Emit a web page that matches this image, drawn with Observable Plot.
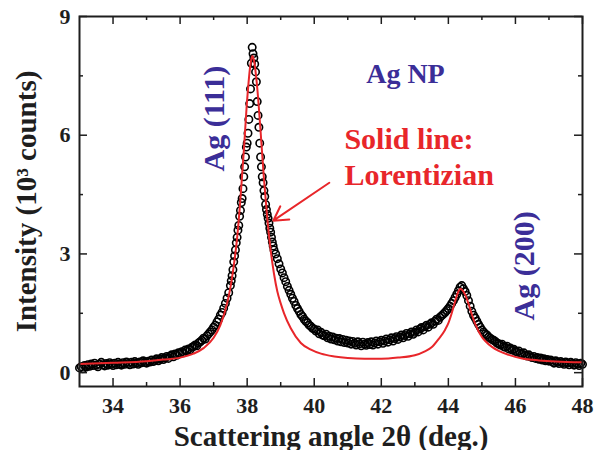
<!DOCTYPE html>
<html><head><meta charset="utf-8">
<script src="https://cdn.jsdelivr.net/npm/d3@7"></script>
<script src="https://cdn.jsdelivr.net/npm/@observablehq/plot@0.6"></script>
<style>body{margin:0;background:#fff}</style>
</head><body><div id="chart"></div>
<script>
const xTicks = [34, 36, 38, 40, 42, 44, 46, 48];
const xMinor = [35, 37, 39, 41, 43, 45, 47];
const yTicks = [0, 3, 6, 9];
const yMinor = [1.5, 4.5, 7.5];

const leftTail = [
[33.00,0.12],[33.05,0.15],[33.10,0.10],[33.15,0.18],[33.20,0.14],[33.25,0.20],[33.30,0.16],[33.35,0.22],[33.40,0.18],[33.45,0.24],
[33.50,0.19],[33.55,0.15],[33.60,0.21],[33.65,0.26],[33.70,0.20],[33.75,0.17],[33.80,0.23],[33.85,0.19],[33.90,0.25],[33.95,0.21],
[34.00,0.18],[34.05,0.24],[34.10,0.20],[34.15,0.26],[34.20,0.22],[34.25,0.19],[34.30,0.25],[34.35,0.21],[34.40,0.27],[34.45,0.23],
[34.50,0.20],[34.55,0.26],[34.60,0.22],[34.65,0.28],[34.70,0.24],[34.75,0.21],[34.80,0.27],[34.85,0.25],[34.90,0.30],[34.95,0.26],
[35.00,0.24],[35.05,0.29],[35.10,0.27],[35.15,0.32],[35.20,0.28],[35.25,0.31],[35.30,0.35],[35.35,0.30],[35.40,0.34],[35.45,0.38],
[35.50,0.33],[35.55,0.37],[35.60,0.41],[35.65,0.36],[35.70,0.42],[35.75,0.45],[35.80,0.40],[35.85,0.47],[35.90,0.44],[35.95,0.50],
[36.00,0.48],[36.05,0.53],[36.10,0.50],[36.15,0.57],[36.20,0.55],[36.25,0.60],[36.30,0.58],[36.35,0.64],[36.40,0.66],[36.45,0.70],
[36.50,0.68],[36.55,0.75],[36.60,0.78],[36.65,0.82],[36.70,0.87],[36.75,0.85],[36.80,0.93],[36.85,0.98],[36.90,1.03],[36.95,1.08],
[37.00,1.15],[37.05,1.20],[37.10,1.28],[37.15,1.35],[37.20,1.45],[37.25,1.52],[37.30,1.63],[37.35,1.75],[37.40,1.88],[37.45,2.02]
];
const mainPeak = [
[37.500,2.20],[37.525,2.32],[37.550,2.45],[37.575,2.60],[37.600,2.80],[37.625,2.95],[37.650,3.10],[37.675,3.28],[37.700,3.42],[37.725,3.60],
[37.750,3.72],[37.775,3.95],[37.800,4.10],[37.825,4.30],[37.850,4.40],[37.875,4.65],[37.900,4.95],[37.925,5.20],[37.950,5.45],[37.975,5.70],
[38.000,5.80],[38.025,6.05],[38.050,6.40],[38.075,6.80],[38.100,7.17],[38.125,7.82],[38.150,8.22],[38.175,8.06],[38.200,7.95],[38.225,7.80],
[38.250,7.60],[38.275,7.35],[38.300,6.85],[38.325,6.50],[38.350,6.20],[38.375,5.80],[38.400,5.45],[38.425,5.20],[38.450,4.95],[38.475,4.80],
[38.500,4.60],[38.525,4.45],[38.550,4.25],[38.575,4.12],[38.600,4.00],[38.625,3.90],[38.650,3.78],[38.675,3.65],[38.700,3.55],[38.725,3.42],
[38.750,3.30],[38.775,3.20],[38.800,3.10]
];
const valleyAndSecond = [
[38.85,3.00],[38.90,2.88],[38.95,2.75],[39.00,2.62],[39.05,2.52],[39.10,2.40],[39.15,2.30],[39.20,2.18],[39.25,2.08],[39.30,1.98],
[39.35,1.88],[39.40,1.80],[39.45,1.70],[39.50,1.62],[39.55,1.55],[39.60,1.47],[39.65,1.42],[39.70,1.35],[39.75,1.30],[39.80,1.26],
[39.85,1.20],[39.90,1.17],[39.95,1.12],[40.00,1.10],[40.05,1.05],[40.10,1.08],[40.15,0.98],[40.20,1.02],[40.25,0.95],[40.30,0.93],
[40.35,0.97],[40.40,0.88],[40.45,0.92],[40.50,0.85],[40.55,0.90],[40.60,0.83],[40.65,0.87],[40.70,0.80],[40.75,0.86],[40.80,0.78],
[40.85,0.84],[40.90,0.76],[40.95,0.82],[41.00,0.75],[41.05,0.80],[41.10,0.72],[41.15,0.79],[41.20,0.74],[41.25,0.70],[41.30,0.78],
[41.35,0.73],[41.40,0.68],[41.45,0.77],[41.50,0.72],[41.55,0.69],[41.60,0.76],[41.65,0.71],[41.70,0.78],[41.75,0.70],[41.80,0.75],
[41.85,0.80],[41.90,0.72],[41.95,0.78],[42.00,0.82],[42.05,0.74],[42.10,0.80],[42.15,0.85],[42.20,0.77],[42.25,0.83],[42.30,0.88],
[42.35,0.80],[42.40,0.86],[42.45,0.91],[42.50,0.84],[42.55,0.90],[42.60,0.95],[42.65,0.88],[42.70,0.94],[42.75,0.99],[42.80,0.92],
[42.85,0.98],[42.90,1.03],[42.95,0.97],[43.00,1.02],[43.05,1.08],[43.10,1.03],[43.15,1.10],[43.20,1.14],[43.25,1.08],[43.30,1.16],
[43.35,1.20],[43.40,1.15],[43.45,1.22],[43.50,1.26],[43.55,1.22],[43.60,1.30],[43.65,1.35],[43.70,1.32],[43.75,1.40],[43.80,1.44],
[43.85,1.48],[43.90,1.52],[43.95,1.57],[44.00,1.62],[44.05,1.68],[44.10,1.75],[44.15,1.82],[44.20,1.90],[44.25,1.98],[44.30,2.07],
[44.35,2.16],[44.40,2.20],[44.45,2.12],[44.50,2.05],[44.55,1.95],[44.60,1.82],[44.65,1.68],[44.70,1.55],[44.75,1.45],[44.80,1.38],
[44.85,1.30],[44.90,1.22],[44.95,1.15],[45.00,1.08],[45.05,1.03],[45.10,0.98],[45.15,0.95],[45.20,0.90],[45.25,0.87],[45.30,0.84],
[45.35,0.82],[45.40,0.79],[45.45,0.75],[45.50,0.73],[45.55,0.70],[45.60,0.72],[45.65,0.66],[45.70,0.64],[45.75,0.67],[45.80,0.60],
[45.85,0.62],[45.90,0.57],[45.95,0.59],[46.00,0.54],[46.05,0.52],[46.10,0.55],[46.15,0.49],[46.20,0.47],[46.25,0.50],[46.30,0.44],
[46.35,0.42],[46.40,0.45],[46.45,0.40],[46.50,0.38],[46.55,0.41],[46.60,0.36],[46.65,0.38],[46.70,0.34],[46.75,0.37],[46.80,0.32],
[46.85,0.35],[46.90,0.30],[46.95,0.33],[47.00,0.29],[47.05,0.32],[47.10,0.28],[47.15,0.24],[47.20,0.30],[47.25,0.26],[47.30,0.23],
[47.35,0.28],[47.40,0.25],[47.45,0.21],[47.50,0.27],[47.55,0.24],[47.60,0.20],[47.65,0.26],[47.70,0.23],[47.75,0.19],[47.80,0.25],
[47.85,0.22],[47.90,0.18],[47.95,0.24],[48.00,0.21]
];
// Lorentzian fit curve
const lorentzFit = [
[33.0,0.22],[34.0,0.25],[35.0,0.29],[35.5,0.33],[36.0,0.38],[36.4,0.48],[36.7,0.62],[37.0,0.88],[37.2,1.2],[37.4,1.75],
[37.5,2.15],[37.6,2.7],[37.7,3.4],[37.8,4.4],[37.9,5.6],[38.0,6.9],[38.1,7.8],[38.15,8.0],[38.2,7.9],[38.3,7.2],
[38.4,6.1],[38.5,4.9],[38.6,3.9],[38.7,3.1],[38.8,2.5],[38.9,2.05],[39.0,1.75],[39.1,1.5],[39.3,1.12],[39.6,0.75],
[39.9,0.58],[40.2,0.48],[40.6,0.41],[41.0,0.37],[41.5,0.35],[42.0,0.35],[42.5,0.38],[43.0,0.44],[43.3,0.54],[43.5,0.64],
[43.7,0.84],[43.9,1.08],[44.0,1.25],[44.1,1.5],[44.2,1.8],[44.3,2.05],[44.35,2.12],[44.4,2.1],[44.5,1.97],[44.6,1.74],
[44.7,1.47],[44.8,1.23],[45.0,0.9],[45.1,0.8],[45.3,0.65],[45.5,0.55],[45.8,0.45],[46.2,0.36],[46.7,0.31],[47.2,0.28],[48.0,0.26]
];

const peakLabels = [{text: "Ag (111)", x: 37.01, y: 6.42}, {text: "Ag (200)", x: 46.27, y: 2.70}];
const sampleLabel = [{text: "Ag NP", x: 42.72, y: 7.55}];
const fitLabels = [{text: "Solid line:", x: 40.9, y: 5.66}, {text: "Lorentizian", x: 40.9, y: 4.75}];
const fitArrow = [{x1: 40.45, y1: 4.80, x2: 38.78, y2: 3.84}];
const xTitle = ["Scattering angle 2θ (deg.)"];
const yTitle = ["Intensity (10³ counts)"];

const measured = [...leftTail, ...mainPeak, ...valleyAndSecond].map(([a, c]) => ({a, c}));
const fit = lorentzFit.map(([a, c]) => ({a, c}));

const W = 594, H = 450, ML = 79, MR = 12, MT = 16, MB = 64;
const FW = W - ML - MR, FH = H - MT - MB;
const ink = "#1e1e1e", blue = "#3b2e98", red = "#e8262a";

const chart = Plot.plot({
  width: W, height: H,
  marginLeft: ML, marginRight: MR, marginTop: MT, marginBottom: MB,
  style: {fontFamily: '"Liberation Serif", "Times New Roman", serif', fontWeight: "bold", color: ink, background: "#fff"},
  x: {domain: [33, 48]},
  y: {domain: [-0.35, 9]},
  marks: [
    Plot.dot(measured, {x: "a", y: "c", r: 3.7, stroke: "#000", strokeWidth: 1.6, fill: "none"}),
    Plot.line(fit, {x: "a", y: "c", stroke: red, strokeWidth: 2, curve: "monotone-x"}),
    Plot.frame({stroke: ink, strokeWidth: 2}),
    // inward ticks on all four sides
    Plot.tickX(xTicks, {x: d => d, insetTop: FH - 8, stroke: ink, strokeWidth: 1.5}),
    Plot.tickX(xTicks, {x: d => d, insetBottom: FH - 8, stroke: ink, strokeWidth: 1.5}),
    Plot.tickX(xMinor, {x: d => d, insetTop: FH - 4, stroke: ink, strokeWidth: 1.5}),
    Plot.tickX(xMinor, {x: d => d, insetBottom: FH - 4, stroke: ink, strokeWidth: 1.5}),
    Plot.tickY(yTicks, {y: d => d, insetRight: FW - 8, stroke: ink, strokeWidth: 1.5}),
    Plot.tickY(yTicks, {y: d => d, insetLeft: FW - 8, stroke: ink, strokeWidth: 1.5}),
    Plot.tickY(yMinor, {y: d => d, insetRight: FW - 4, stroke: ink, strokeWidth: 1.5}),
    Plot.tickY(yMinor, {y: d => d, insetLeft: FW - 4, stroke: ink, strokeWidth: 1.5}),
    Plot.axisX(xTicks, {anchor: "bottom", tickSize: 0, tickPadding: 11, fontSize: 22, fontWeight: "bold", label: null}),
    Plot.axisY(yTicks, {anchor: "left", tickSize: 0, tickPadding: 9, fontSize: 22, fontWeight: "bold", label: null}),
    Plot.text(xTitle, {frameAnchor: "bottom", textAnchor: "middle", lineAnchor: "bottom", dy: 59, fontSize: 29, fontWeight: "bold", fill: ink}),
    Plot.text(yTitle, {frameAnchor: "left", textAnchor: "middle", lineAnchor: "middle", rotate: -90, dx: -53, fontSize: 29, fontWeight: "bold", fill: ink}),
    Plot.text(peakLabels, {x: "x", y: "y", text: "text", rotate: -90, fontSize: 30, fontWeight: "bold", fill: blue}),
    Plot.text(sampleLabel, {x: "x", y: "y", text: "text", fontSize: 28, fontWeight: "bold", fill: blue}),
    Plot.text(fitLabels, {x: "x", y: "y", text: "text", textAnchor: "start", lineAnchor: "bottom", fontSize: 30, fontWeight: "bold", fill: red}),
    Plot.arrow(fitArrow, {x1: "x1", y1: "y1", x2: "x2", y2: "y2", stroke: red, strokeWidth: 2, headLength: 12})
  ]
});
document.getElementById("chart").append(chart);
</script>
</body></html>
